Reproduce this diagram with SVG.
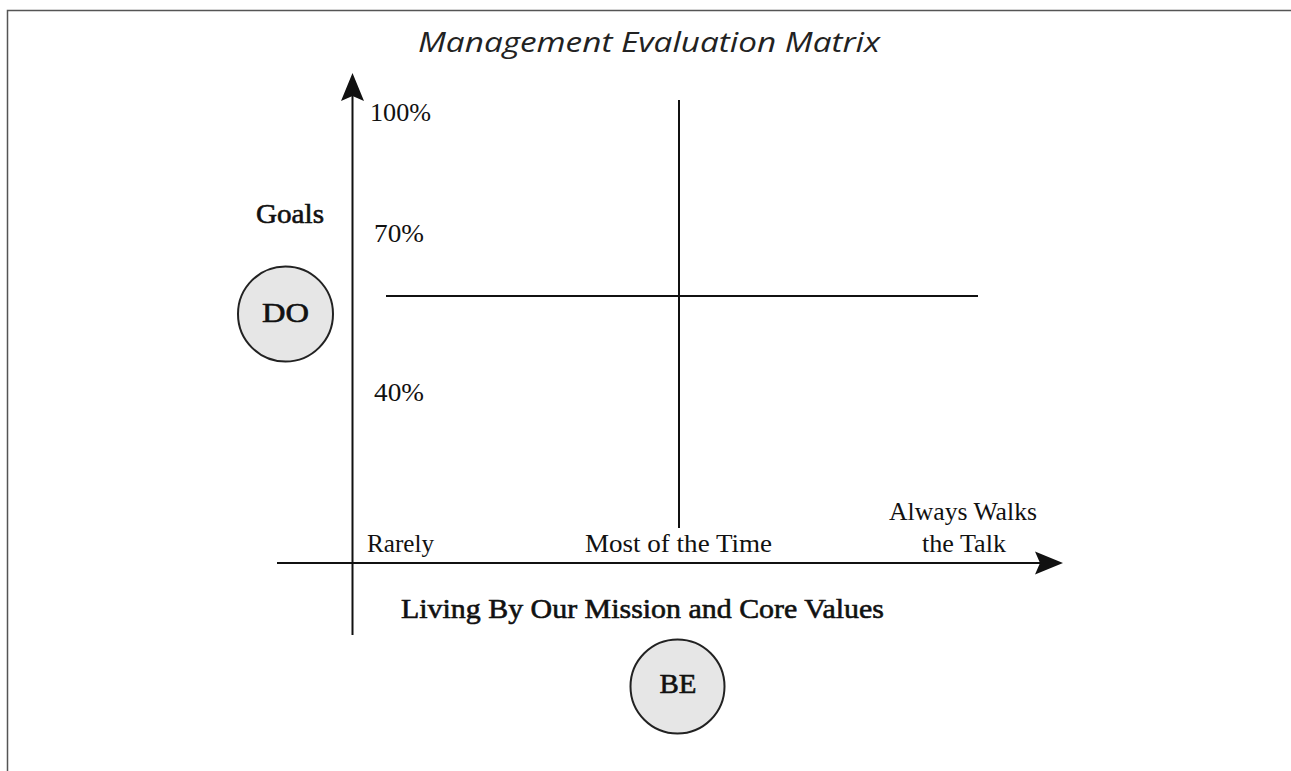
<svg xmlns="http://www.w3.org/2000/svg" width="1291" height="771" viewBox="0 0 1291 771">
  <style>
    .frame { fill: none; stroke: #555; stroke-width: 1.5; }
    .axis { stroke: #111; stroke-width: 2; fill: none; }
    .grid { stroke: #111; stroke-width: 2; fill: none; }
    .title { font-family: "Open Sans", "DejaVu Sans", sans-serif; font-style: italic; font-size: 28px; fill: #222; }
    .lbl { font-family: "Liberation Serif", "DejaVu Serif", serif; font-size: 26px; fill: #111; }
    /* semibold look: regular face with a thin outline */
    .strong { font-family: "Liberation Serif", "DejaVu Serif", serif; font-size: 28px; fill: #111; stroke: #111; stroke-width: 0.6; }
    .badge circle { fill: #e6e6e6; stroke: #222; stroke-width: 2; }
  </style>
  <defs>
    <marker id="arrow" markerUnits="userSpaceOnUse" viewBox="-19 -12 30 24" refX="0" refY="0" markerWidth="30" markerHeight="24" orient="auto">
      <path d="M10,0 L-18,-11.5 L-13,0 L-18,11.5 Z" fill="#111"/>
    </marker>
  </defs>

  <rect class="frame" x="7.5" y="10.5" width="1300" height="800"/>

  <text class="title" x="418" y="52" textLength="462" lengthAdjust="spacingAndGlyphs">Management Evaluation Matrix</text>

  <g id="connectors">
    <!-- axes -->
    <line class="axis" x1="352.5" y1="635" x2="352.5" y2="83" marker-end="url(#arrow)"/>
    <line class="axis" x1="277" y1="563" x2="1053" y2="563" marker-end="url(#arrow)"/>
    <!-- quadrant dividers -->
    <line class="grid" x1="679" y1="100" x2="679" y2="528"/>
    <line class="grid" x1="386" y1="296" x2="978" y2="296"/>
  </g>

  <g id="y-labels">
    <text class="lbl" x="370" y="121" textLength="61" lengthAdjust="spacingAndGlyphs">100%</text>
    <text class="lbl" x="374" y="242" textLength="50" lengthAdjust="spacingAndGlyphs">70%</text>
    <text class="lbl" x="374" y="401" textLength="50" lengthAdjust="spacingAndGlyphs">40%</text>
    <text class="strong" x="256" y="223" textLength="68" lengthAdjust="spacingAndGlyphs">Goals</text>
  </g>

  <g id="x-labels">
    <text class="lbl" x="367" y="552" textLength="67" lengthAdjust="spacingAndGlyphs">Rarely</text>
    <text class="lbl" x="585" y="552" textLength="187" lengthAdjust="spacingAndGlyphs">Most of the Time</text>
    <text class="lbl" x="889" y="520" textLength="148" lengthAdjust="spacingAndGlyphs">Always Walks</text>
    <text class="lbl" x="922" y="552" textLength="84" lengthAdjust="spacingAndGlyphs">the Talk</text>
    <text class="strong" x="401" y="618" textLength="483" lengthAdjust="spacingAndGlyphs">Living By Our Mission and Core Values</text>
  </g>

  <g id="node-do" class="badge">
    <circle cx="285.5" cy="314" r="47.5"/>
    <text class="strong" x="285.5" y="322" text-anchor="middle" textLength="47" lengthAdjust="spacingAndGlyphs">DO</text>
  </g>

  <g id="node-be" class="badge">
    <circle cx="677.5" cy="686.5" r="47"/>
    <text class="strong" x="678" y="693" text-anchor="middle" textLength="37" lengthAdjust="spacingAndGlyphs">BE</text>
  </g>
</svg>
